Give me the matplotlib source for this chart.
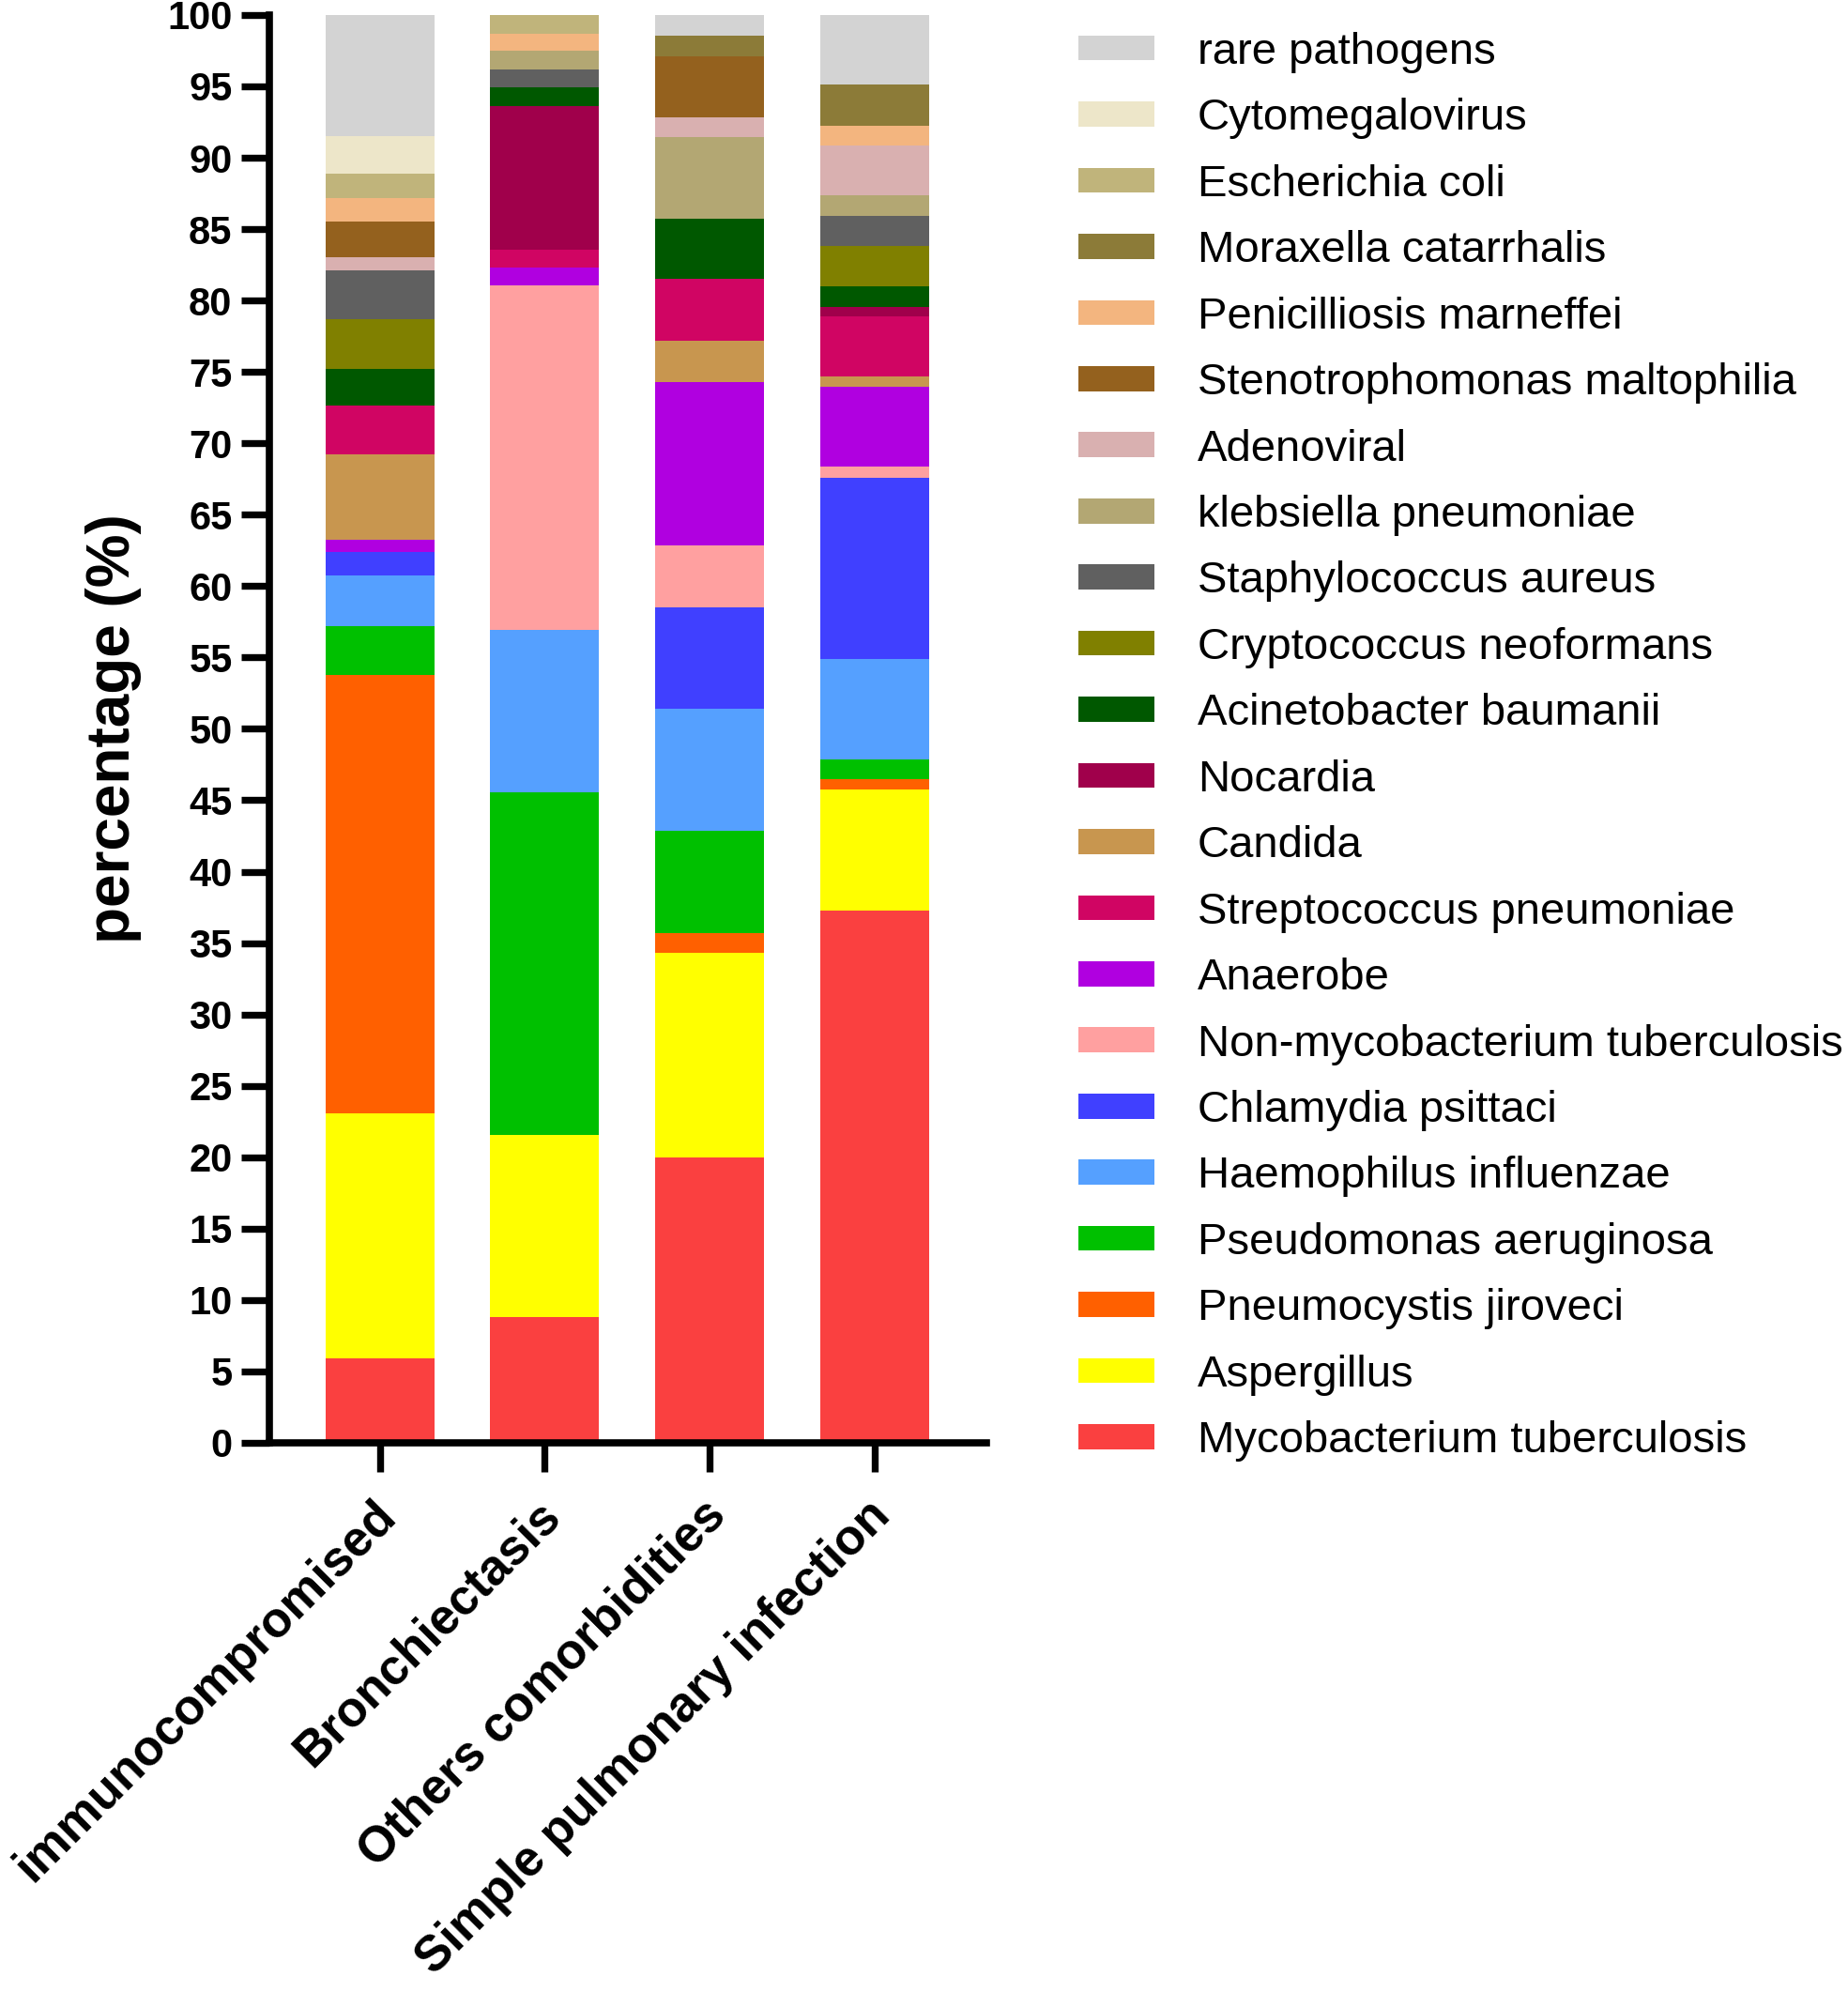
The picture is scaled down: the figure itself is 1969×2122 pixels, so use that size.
import matplotlib
matplotlib.use("Agg")
import matplotlib.pyplot as plt
import matplotlib.transforms as mtransforms
import numpy as np

plt.rcParams['font.family'] = ['Liberation Sans', 'DejaVu Sans']

groups = ["immunocompromised", "Bronchiectasis", "Others comorbidities",
          "Simple pulmonary infection"]

# stacking order, bottom to top
pathogens = ["Mycobacterium tuberculosis", "Aspergillus", "Pneumocystis jiroveci",
             "Pseudomonas aeruginosa", "Haemophilus influenzae", "Chlamydia psittaci",
             "Non-mycobacterium tuberculosis", "Anaerobe", "Candida",
             "Streptococcus pneumoniae", "Nocardia", "Acinetobacter baumanii",
             "Cryptococcus neoformans", "Staphylococcus aureus", "klebsiella pneumoniae",
             "Adenoviral", "Stenotrophomonas maltophilia", "Penicilliosis marneffei",
             "Moraxella catarrhalis", "Escherichia coli", "Cytomegalovirus",
             "rare pathogens"]

colors = ["#FA4040", "#FFFF00", "#FF6000", "#00C000", "#55A0FF", "#4040FF",
          "#FFA0A0", "#B000E0", "#C8964F", "#D00563", "#A0004B", "#005800",
          "#808000", "#606060", "#B3A773", "#D9B0B0", "#94611E", "#F3B57F",
          "#8C7B38", "#C0B47B", "#EDE6C9", "#D3D3D3"]

immuno = [5.94, 17.15, 30.69, 3.40, 3.54, 1.69, 0.0, 0.81, 6.01, 3.42, 0.0, 2.54,
          3.50, 3.41, 0.0, 0.90, 2.50, 1.70, 0.0, 1.70, 2.60, 8.50]
bronch = [8.84, 12.70, 0.0, 23.99, 11.41, 0.0, 24.11, 1.25, 0.0, 1.25, 10.05, 1.30,
          0.0, 1.30, 1.30, 0.0, 0.0, 1.20, 0.0, 1.30, 0.0, 0.0]
others = [19.96, 14.34, 1.39, 7.14, 8.55, 7.15, 4.31, 11.43, 2.91, 4.35, 0.0, 4.20,
          0.0, 0.0, 5.71, 1.41, 4.25, 0.0, 1.46, 0.0, 0.0, 1.44]
simple = [37.29, 8.48, 0.68, 1.39, 7.05, 12.72, 0.73, 5.60, 0.76, 4.16, 0.72, 1.40,
          2.83, 2.14, 1.39, 3.49, 0.0, 1.41, 2.86, 0.0, 0.0, 4.90]

# legend as printed, top to bottom
legend_order = ["rare pathogens", "Cytomegalovirus", "Escherichia coli",
                "Moraxella catarrhalis", "Penicilliosis marneffei",
                "Stenotrophomonas maltophilia", "Adenoviral", "klebsiella pneumoniae",
                "Staphylococcus aureus", "Cryptococcus neoformans",
                "Acinetobacter baumanii", "Nocardia", "Candida",
                "Streptococcus pneumoniae", "Anaerobe", "Non-mycobacterium tuberculosis",
                "Chlamydia psittaci", "Haemophilus influenzae", "Pseudomonas aeruginosa",
                "Pneumocystis jiroveci", "Aspergillus", "Mycobacterium tuberculosis"]

values = np.array([immuno, bronch, others, simple])
x = np.arange(len(groups))

fig = plt.figure(figsize=(19.69, 21.22), dpi=100)
ax = fig.add_axes([0.1458, 0.2757, 0.388, 0.7168])

bottom = np.zeros(len(groups))
handles = {}
for i, name in enumerate(pathogens):
    b = ax.bar(x, values[:, i], 0.66, bottom=bottom, color=colors[i],
               edgecolor='none', label=name)
    handles[name] = b
    bottom += values[:, i]

ax.set_xlim(-0.67, 3.68)
ax.set_ylim(0, 100)
ax.set_yticks(np.arange(0, 101, 5))
ax.set_xticks(x)
ax.set_xticklabels(groups, rotation=45, ha='right', va='center',
                   rotation_mode='anchor', fontsize=38, fontweight='bold')
for lab in ax.get_yticklabels():
    lab.set_fontsize(30)
    lab.set_fontweight('bold')

for s in ['top', 'right']:
    ax.spines[s].set_visible(False)
for s in ['left', 'bottom']:
    ax.spines[s].set_linewidth(5.5)
ax.tick_params(axis='y', width=5.3, length=21.5, pad=7)
ax.tick_params(axis='x', width=5.3, length=22, pad=28)

# nudge the rotated labels a little to the right, like the original
offset = mtransforms.ScaledTranslation(9 / 100, 0, fig.dpi_scale_trans)
for lab in ax.get_xticklabels():
    lab.set_transform(lab.get_transform() + offset)

ax.set_ylabel("percentage (%)", fontsize=46, fontweight='bold')
ax.yaxis.set_label_coords(-0.178, 0.5)

fig.legend([handles[n] for n in legend_order], legend_order,
           loc='center left', bbox_to_anchor=(0.5835, 0.6251), frameon=False,
           fontsize=34, handlelength=1.72, handleheight=0.49, handletextpad=0.97,
           labelspacing=0.56, borderpad=0, borderaxespad=0)

fig.savefig("out.png", dpi=100)
